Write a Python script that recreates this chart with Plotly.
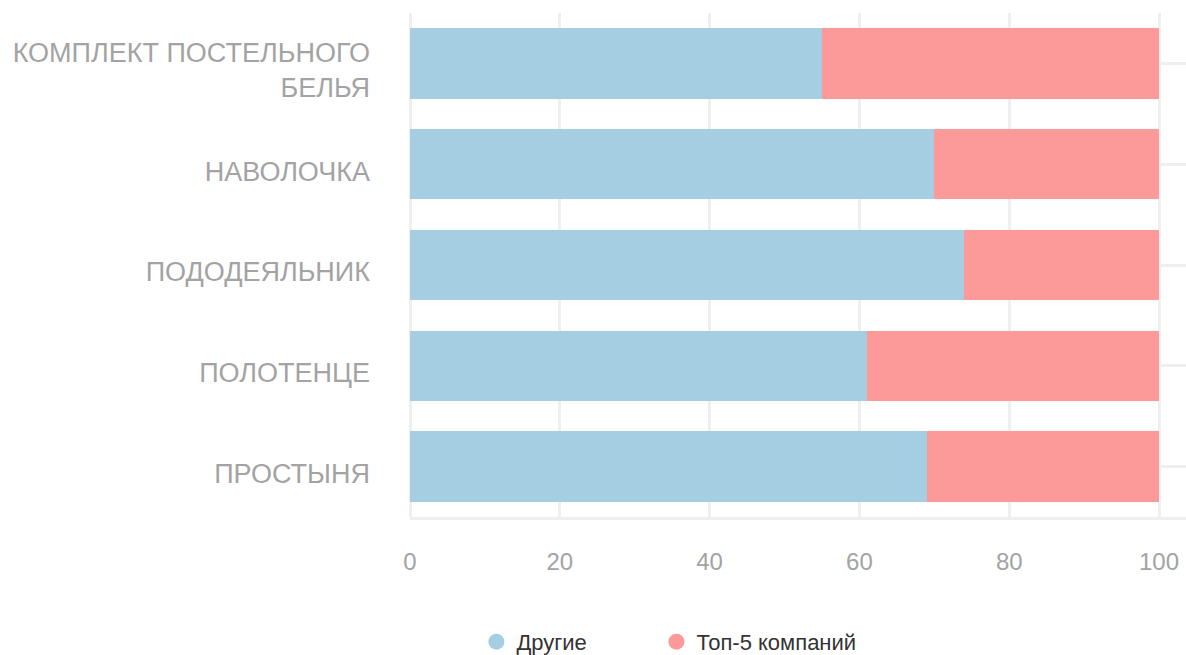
import plotly.graph_objects as go

categories = ["КОМПЛЕКТ ПОСТЕЛЬНОГО<br>БЕЛЬЯ", "НАВОЛОЧКА", "ПОДОДЕЯЛЬНИК", "ПОЛОТЕНЦЕ", "ПРОСТЫНЯ"]
others = [55, 70, 74, 61, 69]
top5 = [45, 30, 26, 39, 31]
series_names = ["Другие", "Топ-5 компаний"]
colors = ["#a6cee3", "#fb9a99"]
x_ticks = [0, 20, 40, 60, 80, 100]

fig = go.Figure()
for i, (name, vals, col) in enumerate(zip(series_names, [others, top5], colors)):
    fig.add_trace(go.Bar(y=categories, x=vals, orientation="h", name=name,
                         marker=dict(color=col, line=dict(width=0)), showlegend=False))
    fig.add_trace(go.Scatter(x=[None], y=[None], mode="markers", name=name,
                             legend="legend" if i == 0 else "legend2",
                             marker=dict(color=col, size=22, symbol="circle")))

grid = "#efefef"
leg_common = dict(orientation="h", xref="container", yref="container", xanchor="left",
                  y=0.02, yanchor="middle", font=dict(size=22, color="#333333"),
                  itemsizing="trace", bgcolor="rgba(0,0,0,0)")
fig.update_layout(
    barmode="stack", bargap=0.3,
    width=1186, height=655,
    margin=dict(l=410, r=0, t=13, b=138),
    plot_bgcolor="white", paper_bgcolor="white",
    font=dict(family="Liberation Sans, Arial, sans-serif"),
    xaxis=dict(range=[0, 103.6], tickvals=x_ticks, showgrid=True, gridcolor=grid, gridwidth=2.5,
               zeroline=True, zerolinecolor=grid, zerolinewidth=2.5,
               showline=True, linecolor=grid, linewidth=2.5,
               tickfont=dict(size=24, color="#a3a3a3"), ticks="", ticklabelstandoff=21),
    yaxis=dict(categoryorder="array", categoryarray=categories, range=[4.5, -0.5],
               showgrid=True, gridcolor=grid, gridwidth=2.5, zeroline=False,
               tickfont=dict(size=27, color="#a3a3a3"), ticks="", ticklabelstandoff=39,
               ticklabelshift=-7),
    legend=dict(x=0.4017, **leg_common),
    legend2=dict(x=0.5535, **leg_common),
)

fig.write_html("out.html", config={"displayModeBar": False},
               post_script="document.body.style.margin='0';document.body.style.overflow='hidden';")
